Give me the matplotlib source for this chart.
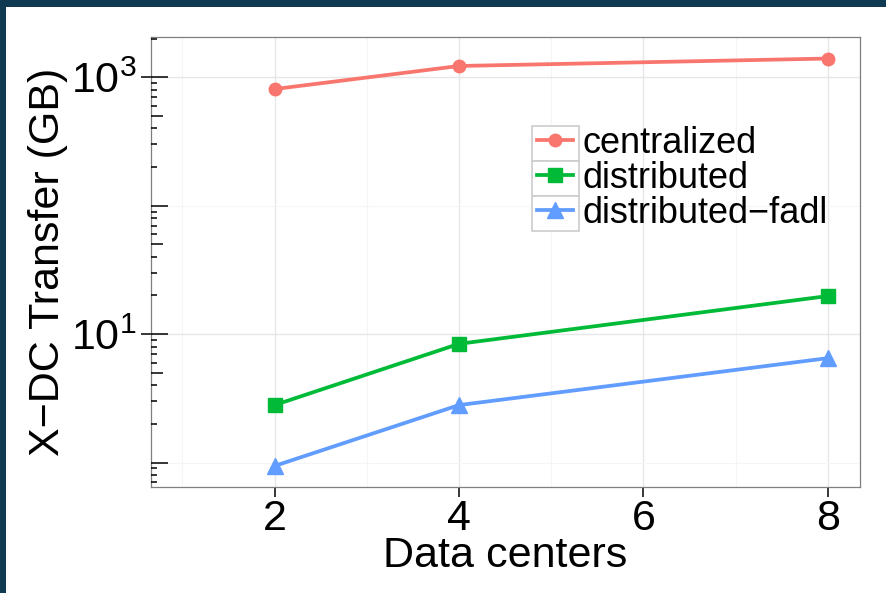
import numpy as np
import matplotlib
matplotlib.use('Agg')
import matplotlib.pyplot as plt
from matplotlib.patches import Rectangle
from matplotlib.transforms import IdentityTransform
from matplotlib.ticker import NullFormatter

# Data
data_centers = [2, 4, 8]
centralized = [810, 1225, 1400]
distributed = [2.8, 8.4, 19.8]
distributed_fadl = [0.94, 2.8, 6.5]

x_ticks = [2, 4, 6, 8]
x_minor = [1, 3, 5, 7]
y_ticks = [10, 1000]
y_tick_labels = [r'$\mathregular{10^{1}}$', r'$\mathregular{10^{3}}$']
y_minor = [1, 100]

plt.rcParams['font.family'] = ['Liberation Sans', 'DejaVu Sans']

W, H = 887, 593
fig = plt.figure(figsize=(W / 100, H / 100), dpi=100)
fig.patch.set_facecolor('#103a52')
fig.add_artist(Rectangle((6 / W, 0), 1, 1 - 7 / H, transform=fig.transFigure,
                         facecolor='white', edgecolor='none', zorder=-10))

ax = fig.add_axes([151 / W, (H - 487.3) / H, 709 / W, 450 / H])
ax.set_yscale('log')

# series
ax.plot(data_centers, centralized, color='#F8766D', marker='o', ms=9,
        lw=2.7, label='centralized', zorder=3)
ax.plot(data_centers, distributed, color='#00BA38', marker='s', ms=9.5,
        lw=2.7, label='distributed', zorder=3)
ax.plot(data_centers, distributed_fadl, color='#619CFF', marker='^', ms=11,
        lw=2.7, label='distributed\u2212fadl', zorder=3)

ylo, yhi = 0.641, 2049

# log tick annotations on the inside of the y axis
trans = ax.get_yaxis_transform()
for k in range(-1, 4):
    for m in range(1, 10):
        v = m * 10.0 ** k
        if v < ylo or v > yhi:
            continue
        if m == 1:
            L = 17
        elif m == 5:
            L = 11.5
        else:
            L = 6
        ax.plot([0, L / 709], [v, v], transform=trans, color='black', lw=1.1,
                solid_capstyle='butt', clip_on=False, zorder=4)

# axes styling
ax.set_xticks(x_ticks)
ax.set_xticks(x_minor, minor=True)
ax.set_yticks(y_ticks)
ax.set_yticklabels(y_tick_labels)
ax.set_yticks(y_minor, minor=True)
ax.yaxis.set_minor_formatter(NullFormatter())
ax.xaxis.set_minor_formatter(NullFormatter())
ax.grid(which='major', color='#e6e6e6', lw=1.0, zorder=0)
ax.grid(which='minor', color='#f5f5f5', lw=0.8, zorder=0)
ax.set_axisbelow(True)
ax.tick_params(which='major', direction='out', length=7.2, width=1.1,
               color='black', labelsize=31, labelcolor='black')
ax.tick_params(axis='x', which='major', pad=1)
ax.tick_params(axis='y', which='major', pad=3)
ax.tick_params(which='minor', length=0)
for s in ax.spines.values():
    s.set_color('#7f7f7f')
    s.set_linewidth(0.9)

ax.set_xlabel('Data centers', fontsize=31, labelpad=-2)
ax.set_ylabel('X\u2212DC Transfer (GB)', fontsize=31, labelpad=2)

ax.set_xlim(0.661, 8.347)
ax.set_ylim(ylo, yhi)

fs = 26
leg = ax.legend(loc='upper left', bbox_to_anchor=(537 / W, 1 - 126 / H),
                bbox_transform=fig.transFigure, frameon=False, fontsize=fs,
                handlelength=1.0, handletextpad=0.25, labelspacing=0.0,
                borderpad=0, borderaxespad=0)
leg.set_zorder(6)

# grey key boxes behind the legend handles
fig.canvas.draw()
texts = leg.get_texts()
boxes = [t.get_window_extent() for t in texts]
centers = [(b.y0 + b.y1) / 2 for b in boxes]
pitch = abs(centers[0] - centers[1])
for b, cy in zip(boxes, centers):
    right = b.x0 - 3.5
    rect = Rectangle((right - 47, cy - pitch / 2), 47, pitch,
                     transform=IdentityTransform(), facecolor='white',
                     edgecolor='#cccccc', lw=1.2, zorder=5, clip_on=False)
    ax.add_artist(rect)

fig.savefig('out.png', dpi=100)
